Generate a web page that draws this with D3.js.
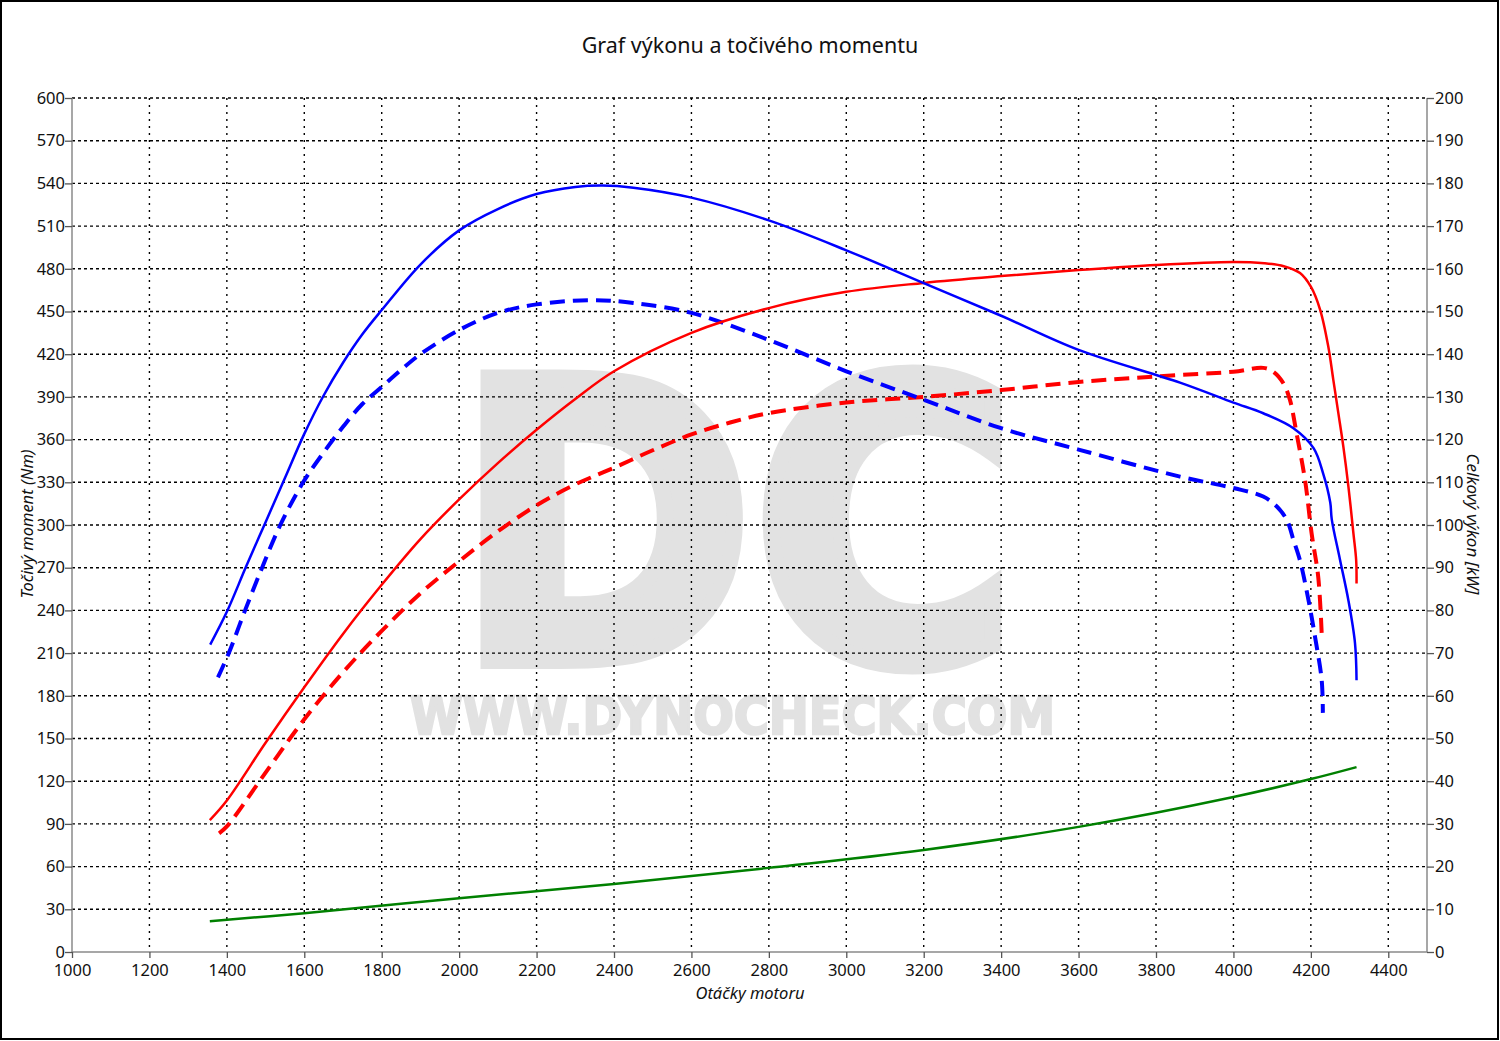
<!DOCTYPE html>
<html><head><meta charset="utf-8">
<script src="https://cdn.jsdelivr.net/npm/d3@7"></script>
<style>html,body{margin:0;padding:0;background:#fff}svg{display:block}</style>
</head><body>
<svg id="chart" width="1500" height="1041"></svg>
<script>
// ---- data ----
const title = "Graf výkonu a točivého momentu";
const xTitle = "Otáčky motoru";
const yLeftTitle = "Točivý moment (Nm)";
const yRightTitle = "Celkový výkon [kW]";
const xTicks = [1000,1200,1400,1600,1800,2000,2200,2400,2600,2800,3000,3200,3400,3600,3800,4000,4200,4400];
const yLeftTicks = [0,30,60,90,120,150,180,210,240,270,300,330,360,390,420,450,480,510,540,570,600];
const yRightTicks = [0,10,20,30,40,50,60,70,80,90,100,110,120,130,140,150,160,170,180,190,200];

// tuned torque (Nm) - blue solid
const tunedTorqueRpm = [1357,1400,1450,1500,1550,1600,1650,1700,1750,1800,1900,2000,2100,2200,2300,2370,2450,2600,2800,3000,3200,3400,3600,3862,4000,4077,4155,4207,4232,4250,4254,4275,4297,4314,4318];
const tunedTorque    = [216,239,271,302,333,364,391,414,434,451,483,507,522,532.5,537.5,538.5,537,530,514,493,470,447,423,400,386,378.5,368,354,336,316,304,276,247,217,191];

// stock torque (Nm) - blue dashed
const stockTorqueRpm = [1377,1405,1447,1491,1538,1597,1650,1700,1750,1800,1850,1900,2000,2100,2200,2340,2450,2600,2800,3000,3200,3400,3600,3862,4000,4077,4112,4138,4155,4172,4194,4211,4228,4231];
const stockTorque    = [193,210,240,270,300,330,351,369,385,397,409,420,437,449,455,458,456,449,430,408,388,368,353,334,326,320,313,303.5,289.5,275,247,221,191,168];

// tuned power (kW) - red solid
const tunedPowerRpm = [1356,1400,1500,1600,1700,1800,1900,2000,2100,2200,2300,2400,2600,2800,3000,3200,3400,3600,3800,4000,4080,4130,4172,4200,4224,4245,4258,4271,4284,4297,4310,4317,4318];
const tunedPower    = [30.9,35.5,49,62,74.5,86,96.7,106,114.5,122.3,129.5,136,145,150.8,154.6,156.7,158.3,159.7,160.9,161.6,161.3,160.6,159,155.8,150.4,141.8,134,126.2,118.3,109,98,91.8,86.3];

// stock power (kW) - red dashed
const stockPowerRpm = [1380,1400,1500,1600,1700,1800,1900,2000,2100,2200,2300,2400,2500,2600,2700,2800,3000,3200,3400,3600,3800,4000,4077,4103,4129,4146,4163,4185,4202,4219,4228];
const stockPower    = [27.8,29.4,42,54.5,65.5,75.2,84,91.5,98.5,104.6,109.5,113.4,117.5,121.2,124,126.2,128.7,130,131.6,133.5,134.8,135.9,136.8,135.9,133.2,129.3,121.5,110.5,98,87.9,74.6];

// losses (kW) - green
const lossRpm = [1356,1600,2000,2400,2800,3200,3600,4000,4200,4318];
const loss    = [7.2,9.1,12.6,15.9,19.7,23.9,29.3,36.3,40.5,43.3];

// ---- drawing ----
const svg = d3.select("#chart");
const FONT = "'Noto Sans', 'Open Sans', sans-serif";
const L = 72, R = 1427, T = 98, B = 952;
const x = d3.scaleLinear().domain([1000,4500]).range([L,R]);
const yL = d3.scaleLinear().domain([0,600]).range([B,T]);
const yR = d3.scaleLinear().domain([0,200]).range([B,T]);

// outer border
svg.append("rect").attr("x",1).attr("y",1).attr("width",1497).attr("height",1038)
  .attr("fill","#fff").attr("stroke","#000").attr("stroke-width",2);

// watermark
svg.append("text").attr("x",456).attr("y",660).text("DC")
  .attr("font-family","'DejaVu Sans', sans-serif").attr("font-weight","bold")
  .attr("font-size",386).attr("fill","#e2e2e2")
  .attr("stroke","#e2e2e2").attr("stroke-width",18).attr("stroke-linejoin","miter")
  .attr("textLength",560).attr("lengthAdjust","spacingAndGlyphs");
svg.append("text").attr("x",410).attr("y",734).text("WWW.DYNOCHECK.COM")
  .attr("font-family","'DejaVu Sans', sans-serif").attr("font-weight","bold")
  .attr("font-size",51).attr("fill","#e2e2e2")
  .attr("stroke","#e2e2e2").attr("stroke-width",2.5)
  .attr("textLength",645).attr("lengthAdjust","spacingAndGlyphs");

// grid
const grid = svg.append("g");
grid.selectAll("line.h").data(yLeftTicks.filter(d=>d>0)).join("line")
  .attr("x1",L).attr("x2",R).attr("y1",d=>yL(d)).attr("y2",d=>yL(d))
  .attr("stroke","#000").attr("stroke-width",1.4).attr("stroke-dasharray","3,3");
grid.selectAll("line.v").data(xTicks.filter(d=>d>1000)).join("line")
  .attr("y1",T).attr("y2",B).attr("x1",d=>x(d)).attr("x2",d=>x(d))
  .attr("stroke","#000").attr("stroke-width",1.4).attr("stroke-dasharray","2,5");

// frame
svg.append("path").attr("d",`M${L},${T}V${B}H${R}V${T}`)
  .attr("fill","none").attr("stroke","#8a8a8a").attr("stroke-width",1.5);

// axes
const axStyle = g => {
  g.select(".domain").remove();
  g.selectAll(".tick line").attr("stroke","#555").attr("stroke-width",1.3);
  g.selectAll(".tick text").attr("font-family",FONT).attr("font-size",16.5).attr("fill","#111");
};
svg.append("g").attr("transform",`translate(${L},0)`)
  .call(d3.axisLeft(yL).tickValues(yLeftTicks).tickSize(7).tickPadding(0).tickFormat(d3.format("d"))).call(axStyle);
svg.append("g").attr("transform",`translate(${R},0)`)
  .call(d3.axisRight(yR).tickValues(yRightTicks).tickSize(7).tickPadding(1).tickFormat(d3.format("d"))).call(axStyle);
svg.append("g").attr("transform",`translate(0,${B})`)
  .call(d3.axisBottom(x).tickValues(xTicks).tickSize(6).tickPadding(6).tickFormat(d3.format("d"))).call(axStyle);

// titles
svg.append("text").attr("x",750).attr("y",53).attr("text-anchor","middle")
  .attr("font-family",FONT).attr("font-size",21.5).attr("fill","#111").text(title);
svg.append("text").attr("x",750).attr("y",999).attr("text-anchor","middle")
  .attr("font-family",FONT).attr("font-style","italic").attr("font-size",16.5).attr("fill","#111").text(xTitle);
svg.append("text").attr("transform","translate(33,524) rotate(-90)").attr("text-anchor","middle")
  .attr("font-family",FONT).attr("font-style","italic").attr("font-size",16.5).attr("fill","#111").text(yLeftTitle);
svg.append("text").attr("transform","translate(1467,524) rotate(90)").attr("text-anchor","middle")
  .attr("font-family",FONT).attr("font-style","italic").attr("font-size",17).attr("fill","#111").text(yRightTitle);

// curves
function drawCurve(rpm, vals, yScale, color, width, dash){
  const pts = rpm.map((r,i)=>[r,vals[i]]);
  const line = d3.line().x(d=>x(d[0])).y(d=>yScale(d[1])).curve(d3.curveCatmullRom.alpha(0.5));
  svg.append("path").datum(pts).attr("d",line).attr("fill","none")
    .attr("stroke",color).attr("stroke-width",width)
    .attr("stroke-dasharray",dash||null).attr("stroke-linejoin","round");
}
drawCurve(lossRpm, loss, yR, "#008000", 2.5);
drawCurve(stockPowerRpm, stockPower, yR, "#ff0000", 4, "15,8");
drawCurve(stockTorqueRpm, stockTorque, yL, "#0000ff", 4, "15,8");
drawCurve(tunedPowerRpm, tunedPower, yR, "#ff0000", 2.5);
drawCurve(tunedTorqueRpm, tunedTorque, yL, "#0000ff", 2.5);
</script>
</body></html>
